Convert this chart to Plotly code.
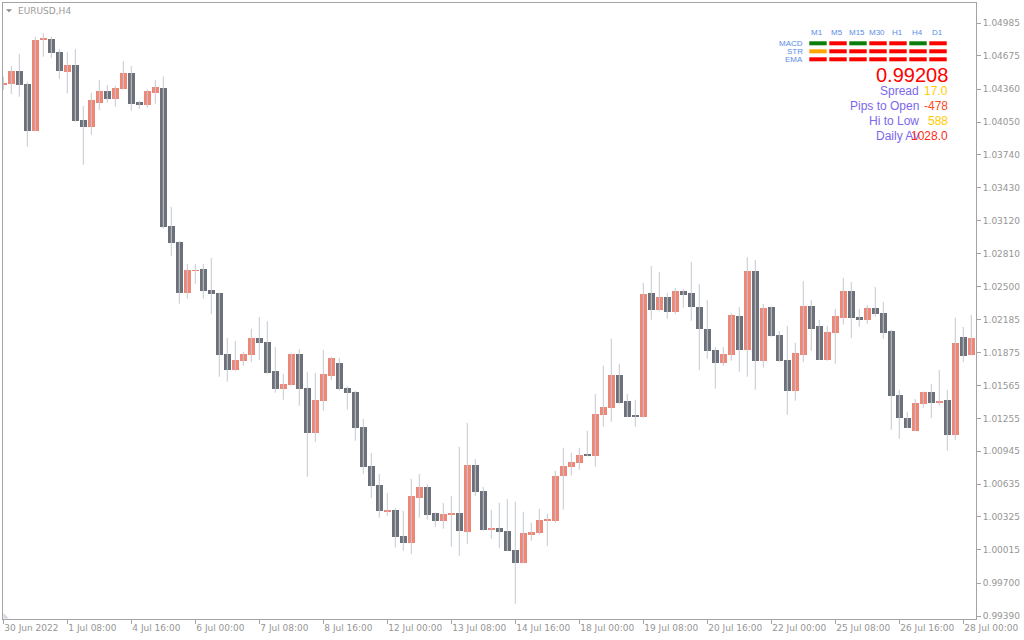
import plotly.graph_objects as go

# EURUSD H4 candles, 30 Jun 2022 00:00 .. 28 Jul 2022 04:00
opens = [
    1.04403, 1.04412, 1.04532, 1.04409, 1.03969, 1.04827, 1.04834, 1.04711, 1.04526, 1.04589,
    1.04070, 1.04007, 1.04233, 1.04343, 1.04271, 1.04365, 1.04513, 1.04240, 1.04211, 1.04325,
    1.04372, 1.03070, 1.02919, 1.02440, 1.02645, 1.02664, 1.02466, 1.02438, 1.01862, 1.01714,
    1.01799, 1.01855, 1.02013, 1.01975, 1.01702, 1.01535, 1.01572, 1.01862, 1.01541, 1.01120,
    1.01421, 1.01657, 1.01777, 1.01541, 1.01504, 1.01176, 1.00805, 1.00626, 1.00374, 1.00390,
    1.00145, 1.00082, 1.00506, 1.00607, 1.00362, 1.00289, 1.00346, 1.00362, 1.00185, 1.00815,
    1.00569, 1.00204, 1.00220, 1.00195, 1.00016, 0.99893, 1.00157, 1.00176, 1.00289, 1.00289,
    1.00714, 1.00799, 1.00836, 1.00912, 1.00903, 1.01289, 1.01355, 1.01667, 1.01421, 1.01280,
    1.01270, 1.02438, 1.02280, 1.02400, 1.02261, 1.02456, 1.02438, 1.02305, 1.02098, 1.01900,
    1.01780, 1.01855, 1.02221, 1.01903, 1.02645, 1.01799, 1.02305, 1.02041, 1.01805, 1.01516,
    1.01855, 1.02315, 1.02126, 1.01808, 1.02063, 1.02205, 1.02456, 1.02211, 1.02186, 1.02296,
    1.02249, 1.02082, 1.01475, 1.01261, 1.01138, 1.01393, 1.01504, 1.01402, 1.01428, 1.01101,
    1.02022, 1.01855,
]
highs = [
    1.04478, 1.04579, 1.04693, 1.04431, 1.04856, 1.04888, 1.04856, 1.04740, 1.04711, 1.04740,
    1.04202, 1.04327, 1.04447, 1.04400, 1.04391, 1.04626, 1.04579, 1.04252, 1.04362, 1.04447,
    1.04482, 1.03249, 1.02928, 1.02711, 1.02711, 1.02711, 1.02768, 1.02442, 1.02016, 1.01985,
    1.01884, 1.02101, 1.02211, 1.02173, 1.01928, 1.01673, 1.01867, 1.01909, 1.01692, 1.01683,
    1.01900, 1.01834, 1.01824, 1.01560, 1.01516, 1.01249, 1.00928, 1.00733, 1.00551, 1.00412,
    1.00381, 1.00683, 1.00730, 1.00636, 1.00367, 1.00456, 1.00522, 1.00985, 1.01211, 1.00871,
    1.00607, 1.00390, 1.00459, 1.00494, 1.00468, 1.00374, 1.00270, 1.00402, 1.00355, 1.00761,
    1.00978, 1.00931, 1.00978, 1.01138, 1.01485, 1.01752, 1.02006, 1.01770, 1.01487, 1.01431,
    1.02532, 1.02692, 1.02636, 1.02438, 1.02485, 1.02475, 1.02730, 1.02522, 1.02371, 1.01928,
    1.01928, 1.02249, 1.02305, 1.02777, 1.02749, 1.02334, 1.02310, 1.02079, 1.02126, 1.01969,
    1.02551, 1.02371, 1.02183, 1.02126, 1.02287, 1.02579, 1.02541, 1.02287, 1.02324, 1.02494,
    1.02353, 1.02089, 1.01522, 1.01318, 1.01437, 1.01508, 1.01579, 1.01711, 1.01522, 1.02205,
    1.02117, 1.02230,
]
lows = [
    1.04353, 1.04315, 1.04290, 1.03818, 1.03966, 1.04667, 1.04655, 1.04460, 1.04322, 1.04054,
    1.03648, 1.03931, 1.04164, 1.04233, 1.04195, 1.04360, 1.04158, 1.04176, 1.04186, 1.04224,
    1.03044, 1.02789, 1.02337, 1.02384, 1.02525, 1.02384, 1.02242, 1.01648, 1.01601, 1.01704,
    1.01752, 1.01789, 1.01805, 1.01678, 1.01497, 1.01431, 1.01567, 1.01374, 1.00704, 1.01035,
    1.01327, 1.01617, 1.01516, 1.01337, 1.01044, 1.00733, 1.00506, 1.00318, 1.00336, 1.00035,
    1.00006, 0.99978, 1.00318, 1.00299, 1.00233, 1.00214, 1.00044, 0.99959, 1.00072, 1.00525,
    1.00195, 1.00119, 1.00029, 1.00003, 0.99506, 0.99888, 1.00100, 1.00157, 1.00053, 1.00270,
    1.00393, 1.00714, 1.00770, 1.00895, 1.00799, 1.01176, 1.01223, 1.01393, 1.01266, 1.01176,
    1.01261, 1.02186, 1.02271, 1.02195, 1.02242, 1.02299, 1.02176, 1.01714, 1.01818, 1.01535,
    1.01752, 1.01799, 1.01695, 1.01648, 1.01525, 1.01733, 1.02025, 1.01789, 1.01289, 1.01421,
    1.01789, 1.01893, 1.01803, 1.01799, 1.01770, 1.02139, 1.02016, 1.02120, 1.02148, 1.02214,
    1.02006, 1.01148, 1.01063, 1.01164, 1.01134, 1.01355, 1.01261, 1.01374, 1.00950, 1.01053,
    1.01789, 1.01848,
]
closes = [
    1.04422, 1.04532, 1.04400, 1.03969, 1.04825, 1.04831, 1.04705, 1.04535, 1.04589, 1.04063,
    1.04007, 1.04259, 1.04343, 1.04271, 1.04372, 1.04513, 1.04224, 1.04211, 1.04343, 1.04381,
    1.03063, 1.02912, 1.02440, 1.02655, 1.02655, 1.02459, 1.02431, 1.01855, 1.01714, 1.01805,
    1.01862, 1.02013, 1.01969, 1.01686, 1.01535, 1.01579, 1.01862, 1.01535, 1.01120, 1.01428,
    1.01673, 1.01824, 1.01535, 1.01497, 1.01167, 1.00799, 1.00617, 1.00384, 1.00386, 1.00138,
    1.00082, 1.00522, 1.00607, 1.00346, 1.00289, 1.00352, 1.00362, 1.00195, 1.00815, 1.00563,
    1.00204, 1.00220, 1.00185, 1.00006, 0.99893, 1.00176, 1.00185, 1.00299, 1.00308, 1.00714,
    1.00808, 1.00846, 1.00912, 1.00903, 1.01299, 1.01365, 1.01667, 1.01402, 1.01270, 1.01270,
    1.02428, 1.02280, 1.02400, 1.02261, 1.02456, 1.02422, 1.02308, 1.02101, 1.01893, 1.01780,
    1.01862, 1.02230, 1.01903, 1.02645, 1.01799, 1.02296, 1.02035, 1.01799, 1.01516, 1.01871,
    1.02315, 1.02101, 1.01808, 1.02070, 1.02221, 1.02456, 1.02205, 1.02186, 1.02296, 1.02242,
    1.02063, 1.01469, 1.01261, 1.01167, 1.01400, 1.01504, 1.01402, 1.01419, 1.01101, 1.01966,
    1.01846, 1.02013,
]

# axis labels (one every 8 bars)
time_tick_bars = [0, 8, 16, 24, 32, 40, 48, 56, 64, 72, 80, 88, 96, 104, 112, 120]
time_tick_labels = [
    "30 Jun 2022", "1 Jul 08:00", "4 Jul 16:00", "6 Jul 00:00", "7 Jul 08:00",
    "8 Jul 16:00", "12 Jul 00:00", "13 Jul 08:00", "14 Jul 16:00", "18 Jul 00:00",
    "19 Jul 08:00", "20 Jul 16:00", "22 Jul 00:00", "25 Jul 08:00", "26 Jul 16:00",
    "28 Jul 00:00",
]
price_ticks = [
    "1.04985", "1.04675", "1.04360", "1.04050", "1.03740", "1.03430", "1.03120",
    "1.02810", "1.02500", "1.02185", "1.01875", "1.01565", "1.01255", "1.00945",
    "1.00635", "1.00325", "1.00015", "0.99700", "0.99390",
]

# indicator panel (top right)
timeframes = ["M1", "M5", "M15", "M30", "H1", "H4", "D1"]
signal_rows = ["MACD", "STR", "EMA"]
signal_states = [
    ["green", "red", "green", "red", "red", "green", "red"],
    ["orange", "red", "red", "red", "red", "red", "red"],
    ["red", "red", "red", "red", "red", "red", "red"],
]
bid_price = "0.99208"
info_rows = [
    ("Spread", "17.0", "#FFCC00"),
    ("Pips to Open", "-478", "#FF4A1C"),
    ("Hi to Low", "588", "#FFCC00"),
    ("Daily Av", "1028.0", "#FF2A1A"),
]

UP = "#EF8777"
DOWN = "#6B7079"
WICK = "#C4C8D1"
FRAME = "#A4A4A4"
TXT = "#969696"
STATE_COLORS = {"green": "#0A7D0A", "red": "#FF0000", "orange": "#FFA500"}

# plot area in page pixels, used to place the overlay items
L, R, T, B = 3, 976, 3, 619


def px(x):
    return (x - L) / (R - L)


def py(y):
    return (B - y) / (B - T)


bars = list(range(len(opens)))
wick_x, wick_y = [], []
for i, h, l in zip(bars, highs, lows):
    wick_x += [i, i, None]
    wick_y += [l, h, None]

body_base = [min(o, c) for o, c in zip(opens, closes)]
body_size = [max(abs(c - o), 0.00014) for o, c in zip(opens, closes)]
body_color = [UP if c >= o else DOWN for o, c in zip(opens, closes)]

fig = go.Figure()
fig.add_trace(go.Scatter(
    x=wick_x, y=wick_y, mode="lines",
    line=dict(color=WICK, width=1), hoverinfo="skip",
))
fig.add_trace(go.Bar(
    x=bars, y=body_size, base=body_base, width=0.85,
    marker=dict(color=body_color, line=dict(width=0)), hoverinfo="skip",
))

shapes = []
annotations = []

# signal grid
for j, tf in enumerate(timeframes):
    annotations.append(dict(
        x=px(817 + 20 * j), y=py(32.7), xref="paper", yref="paper", text=tf,
        showarrow=False, xanchor="center", yanchor="middle",
        font=dict(family="Liberation Sans", size=8, color="#5B8CE6"),
    ))
for r, name in enumerate(signal_rows):
    annotations.append(dict(
        x=px(805), y=py(43.3 + 8 * r), xref="paper", yref="paper", text=name,
        showarrow=False, xanchor="right", yanchor="middle",
        font=dict(family="Liberation Sans", size=8, color="#5B8CE6"),
    ))
    for j, state in enumerate(signal_states[r]):
        shapes.append(dict(
            type="rect", xref="paper", yref="paper",
            x0=px(809.3 + 20 * j), x1=px(826.7 + 20 * j),
            y0=py(45.3 + 8 * r), y1=py(41.3 + 8 * r),
            fillcolor=STATE_COLORS[state], line=dict(width=0),
        ))

annotations.append(dict(
    x=px(950), y=py(74.5), xref="paper", yref="paper", text=bid_price,
    showarrow=False, xanchor="right", yanchor="middle",
    font=dict(family="Liberation Sans", size=20, color="#FF0000"),
))
for k, (label, value, col) in enumerate(info_rows):
    yy = py(90.5 + 15 * k)
    annotations.append(dict(
        x=px(920.5), y=yy, xref="paper", yref="paper", text=label,
        showarrow=False, xanchor="right", yanchor="middle",
        font=dict(family="Liberation Sans", size=12, color="#7B68EE"),
    ))
    annotations.append(dict(
        x=px(950), y=yy, xref="paper", yref="paper", text=value,
        showarrow=False, xanchor="right", yanchor="middle",
        font=dict(family="Liberation Sans", size=12, color=col),
    ))

# symbol caption
annotations.append(dict(
    x=px(16), y=py(10.7), xref="paper", yref="paper", text="EURUSD,H4",
    showarrow=False, xanchor="left", yanchor="middle",
    font=dict(family="DejaVu Sans", size=9, color="#9A9A9A"),
))
shapes.append(dict(
    type="path", xref="paper", yref="paper", line=dict(width=0), fillcolor="#8A8A8A",
    path=f"M {px(6)},{py(9.3)} L {px(12)},{py(9.3)} L {px(9)},{py(12.3)} Z",
))
shapes.append(dict(
    type="path", xref="paper", yref="paper", line=dict(width=0), fillcolor="#D6D6E2",
    path=f"M {px(3.5)},{py(613)} L {px(3.5)},{py(618.5)} L {px(9)},{py(618.5)} Z",
))

fig.update_layout(
    width=1024, height=640,
    margin=dict(l=L, r=1024 - R, t=T, b=640 - B, autoexpand=False),
    paper_bgcolor="white", plot_bgcolor="white",
    showlegend=False, hovermode=False, bargap=0,
    shapes=shapes, annotations=annotations,
    font=dict(family="DejaVu Sans", size=9, color=TXT),
    xaxis=dict(
        range=[-0.04, 121.59], tickmode="array",
        tickvals=time_tick_bars, ticktext=time_tick_labels,
        ticks="outside", ticklen=4, tickcolor=FRAME, tickwidth=1,
        ticklabelposition="outside right",
        showline=True, mirror=True, linecolor=FRAME, linewidth=1,
        showgrid=False, zeroline=False, fixedrange=True,
        tickfont=dict(family="DejaVu Sans", size=9, color=TXT),
    ),
    yaxis=dict(
        side="right", range=[0.99362, 1.05174], tickmode="array",
        tickvals=[float(t) for t in price_ticks], ticktext=price_ticks,
        ticks="outside", ticklen=4, tickcolor=FRAME, tickwidth=1,
        showline=True, mirror=True, linecolor=FRAME, linewidth=1,
        showgrid=False, zeroline=False, fixedrange=True,
        tickfont=dict(family="DejaVu Sans", size=9, color=TXT),
    ),
)

# the page body has a default 8px margin; drop it so the figure fills the window
fig.write_html(
    "out.html",
    config={"displayModeBar": False, "staticPlot": True},
    post_script="document.body.style.margin='0px';document.body.style.overflow='hidden';",
)
